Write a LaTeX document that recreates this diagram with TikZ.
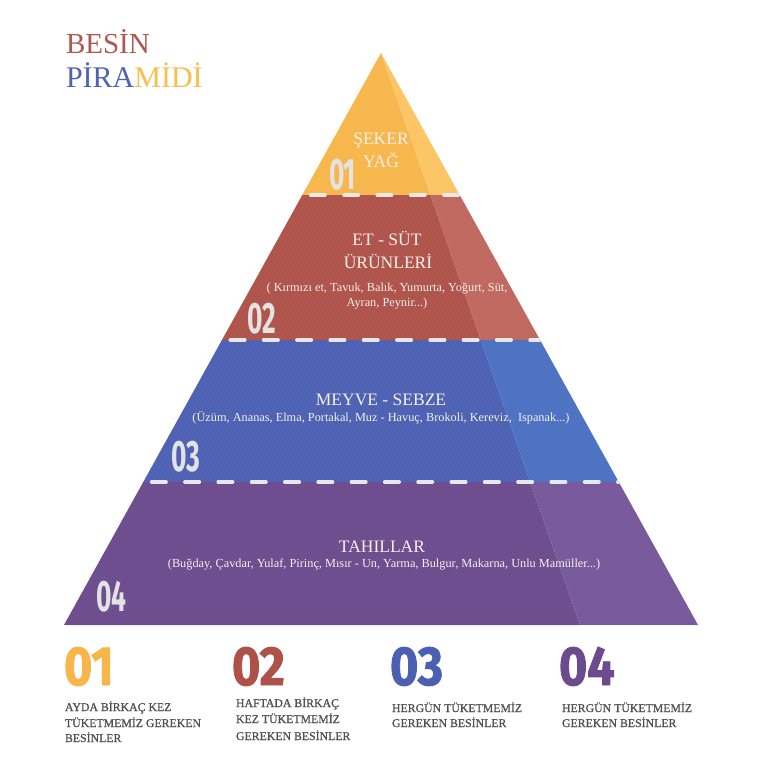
\documentclass[tikz,border=0pt]{standalone}
\usepackage{fontspec}
\setmainfont{Liberation Serif}
\newfontfamily\numfont[FakeStretch=0.6]{Fira Sans}
\newfontfamily\bignum[FakeStretch=0.88,FakeBold=1.6]{Fira Sans}
\newfontfamily\legfont[FakeBold=0.9]{Liberation Serif}
\definecolor{yelD}{HTML}{F7B649}
\definecolor{yelL}{HTML}{FCC563}
\definecolor{redD}{HTML}{AE5148}
\definecolor{redL}{HTML}{BF665D}
\definecolor{bluD}{HTML}{4B5FB3}
\definecolor{bluL}{HTML}{4A70C2}
\definecolor{purD}{HTML}{6B4A8D}
\definecolor{purL}{HTML}{75579A}
\definecolor{txtW}{HTML}{F5F0EA}
\definecolor{numG}{HTML}{E3E3E3}
\definecolor{sepG}{HTML}{E8E8E8}
\definecolor{legG}{HTML}{505050}
\definecolor{ttlR}{HTML}{B0574E}
\definecolor{ttlB}{HTML}{4F62B4}
\definecolor{ttlY}{HTML}{F8BE50}
\newcommand{\tierband}[4]{%
  \begin{scope}
    \clip (0,#1) rectangle (768,#2);
    \fill[#3] (apex) -- (bl) -- (bs) -- cycle;
    \fill[#4] (apex) -- (bs) -- (br) -- cycle;
  \end{scope}}
\tikzset{
  every node/.style={inner sep=0pt, outer sep=0pt},
  ttl/.style={font=\fontsize{17.5}{18}\selectfont, text=txtW, anchor=base},
  sub/.style={font=\fontsize{12.3}{13}\selectfont, text=txtW, anchor=base},
  pnum/.style={font=\numfont\bfseries\fontsize{44}{44}\selectfont, text=numG, anchor=base west},
  lnum/.style={font=\bignum\bfseries\fontsize{55}{55}\selectfont, anchor=base west},
  ltxt/.style={font=\legfont\fontsize{11.8}{12}\selectfont, text=legG, anchor=base west},
  sepline/.style={draw=sepG, line width=3.5pt, line cap=round, dash pattern=on 14.5pt off 18.8pt, dash phase=25pt},
  stripe/.style={draw=white, draw opacity=0.05, line width=1.1pt},
}
\begin{document}
\begin{tikzpicture}[x=1pt,y=-1pt]
\useasboundingbox (0,0) rectangle (768,768);
\fill[white] (0,0) rectangle (768,768);
\coordinate (apex) at (381,53);
\coordinate (bl) at (64,625);
\coordinate (bs) at (580,625);
\coordinate (br) at (698,625);
% tiers
\tierband{40}{195}{yelD}{yelL}
\tierband{195}{340}{redD}{redL}
\tierband{340}{482}{bluD}{bluL}
\tierband{482}{625}{purD}{purL}
\begin{scope}
  \clip (apex) -- (bl) -- (br) -- cycle;
  \foreach \i in {-640,-636,...,700} { \draw[stripe] (\i,40) -- ++(600,600); }
\end{scope}
\draw[white, opacity=0.35, line width=0.8pt] (bl) -- (br);
% separators
\coordinate (s1l) at (302.3,195); \coordinate (s1r) at (459.7,195);
\coordinate (s2l) at (222,340);   \coordinate (s2r) at (540,340);
\coordinate (s3l) at (143.3,482); \coordinate (s3r) at (618.7,482);
\begin{scope}
  \clip (apex) -- (bl) -- (br) -- cycle;
  \draw[sepline] (s1l) -- (s1r);
  \draw[sepline] (s2l) -- (s2r);
  \draw[sepline] (s3l) -- (s3r);
\end{scope}
% title
\node[anchor=base west, font=\fontsize{29}{30}\selectfont, text=ttlR] (title1) at (66,53) {BESİN};
\node[anchor=base west, font=\fontsize{30}{31}\selectfont] (title2) at (66,88) {\textcolor{ttlB}{PİRA}\textcolor{ttlY}{MİDİ}};
% tier texts
\node[ttl] (y1) at (381,144) {ŞEKER};
\node[ttl] (y2) at (381,167) {YAĞ};
\node[ttl] (r1) at (387,245) {ET - SÜT};
\node[ttl] (r2) at (388,268) {ÜRÜNLERİ};
\node[sub] (r3) at (387,291) {( Kırmızı et, Tavuk, Balık, Yumurta, Yoğurt, Süt,};
\node[sub] (r4) at (387,306) {Ayran, Peynir...)};
\node[ttl] (b1) at (381,405) {MEYVE - SEBZE};
\node[sub] (b2) at (381,421) {(Üzüm, Ananas, Elma, Portakal, Muz - Havuç, Brokoli, Kereviz,\ \ Ispanak...)};
\node[ttl] (p1) at (382,552) {TAHILLAR};
\node[sub] (p2) at (384,567) {(Buğday, Çavdar, Yulaf, Pirinç, Mısır - Un, Yarma, Bulgur, Makarna, Unlu Mamüller...)};
% pyramid numbers
\node[pnum] (n1) at (329,189) {01};
\node[pnum] (n2) at (247,333) {02};
\node[pnum] (n3) at (171,471) {03};
\node[pnum] (n4) at (96,611) {04};
% legend numbers
\node[lnum, text=yelD] (L1) at (64,685) {01};
\node[lnum, text=redD] (L2) at (232,685) {02};
\node[lnum, text=bluD] (L3) at (390,685) {03};
\node[lnum, text=purD] (L4) at (559,685) {04};
% legend text
\node[ltxt] (a1) at (65,711) {AYDA BİRKAÇ KEZ};
\node[ltxt] (a2) at (65,727) {TÜKETMEMİZ GEREKEN};
\node[ltxt] (a3) at (65,742) {BESİNLER};
\node[ltxt] (b1l) at (236,707) {HAFTADA BİRKAÇ};
\node[ltxt] (b2l) at (236,723) {KEZ TÜKETMEMİZ};
\node[ltxt] (b3l) at (236,740) {GEREKEN BESİNLER};
\node[ltxt] (c1) at (392,712) {HERGÜN TÜKETMEMİZ};
\node[ltxt] (c2) at (392,727) {GEREKEN BESİNLER};
\node[ltxt] (d1) at (562,712) {HERGÜN TÜKETMEMİZ};
\node[ltxt] (d2) at (562,727) {GEREKEN BESİNLER};
\end{tikzpicture}
\end{document}
